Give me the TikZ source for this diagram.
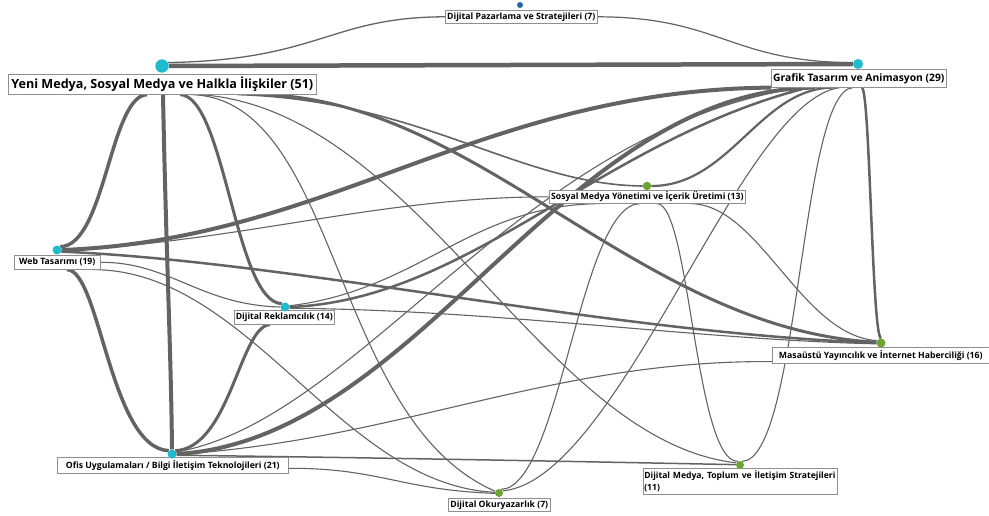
\documentclass[tikz,border=0pt]{standalone}
\usepackage{fontspec}
\setmainfont{Open Sans}
\definecolor{edgec}{HTML}{636363}
\definecolor{cyanN}{HTML}{1CBCCC}
\definecolor{greenN}{HTML}{6AA532}
\definecolor{blueN}{HTML}{2B62AD}
\definecolor{boxc}{HTML}{8F8F8F}
\pgfdeclarelayer{bg}
\pgfsetlayers{bg,main}
\newcommand{\fsz}[1]{\bfseries\fontsize{#1}{#1}\selectfont}
\begin{document}
\begin{tikzpicture}[x=1pt,y=-1pt,
  lnk/.style={draw=edgec, line width=#1},
  lnk/.default=1.1pt,
  lab/.style={draw=boxc, line width=0.6pt, fill=white, anchor=north west, inner xsep=1pt, inner ysep=0pt, text=black, font=\fsz{8.7}},
  ndot/.style={circle, inner sep=0pt, minimum size=#1},
]
\useasboundingbox (0,0) rectangle (989,516);

% labels
\node[lab, minimum width=152pt, minimum height=13pt] (dpsL) at (445,10) {Dijital Pazarlama ve Stratejileri (7)};
\node[lab, font=\fsz{12.6}, minimum width=308pt, minimum height=20pt] (ymL) at (8,74) {Yeni Medya, Sosyal Medya ve Halkla İlişkiler (51)};
\node[lab, font=\fsz{10.3}, minimum width=175pt, minimum height=18pt] (gtL) at (771,69) {Grafik Tasarım ve Animasyon (29)};
\node[lab, minimum width=196pt, minimum height=13pt] (smyL) at (549,190) {Sosyal Medya Yönetimi ve İçerik Üretimi (13)};
\node[lab, minimum width=86pt, minimum height=14pt] (wtL) at (14,255) {Web Tasarımı (19)};
\node[lab, minimum width=100pt, minimum height=14pt] (drL) at (234,310) {Dijital Reklamcılık (14)};
\node[lab, minimum width=217pt, minimum height=16pt] (myL) at (772,347) {Masaüstü Yayıncılık ve İnternet Haberciliği (16)};
\node[lab, minimum width=231pt, minimum height=16pt] (ouL) at (57,457) {Ofis Uygulamaları / Bilgi İletişim Teknolojileri (21)};
\node[lab, text width=192pt, align=left, minimum height=26pt, font=\bfseries\fontsize{8.6}{12}\selectfont] (dmtL) at (643,468) {\mbox{Dijital Medya, Toplum ve İletişim Stratejileri}\\(11)};
\node[lab, minimum width=102pt, minimum height=13pt] (dokL) at (448,498) {Dijital Okuryazarlık (7)};

% dots
\node[ndot=13.4pt, fill=cyanN] (ym) at (162,66) {};
\node[ndot=10pt, fill=cyanN] (gt) at (858,64) {};
\node[ndot=6pt, fill=blueN] (dps) at (520,5) {};
\node[ndot=8.5pt, fill=greenN] (smy) at (647,186) {};
\node[ndot=9pt, fill=cyanN] (wt) at (57,250) {};
\node[ndot=9pt, fill=cyanN] (dr) at (285,307) {};
\node[ndot=9pt, fill=greenN] (my) at (881,343) {};
\node[ndot=9pt, fill=cyanN] (ou) at (172,454) {};
\node[ndot=8pt, fill=greenN] (dmt) at (740,465) {};
\node[ndot=8pt, fill=greenN] (dok) at (499,493) {};

\begin{pgfonlayer}{bg}
% YM
\draw[lnk=4.5pt] (ym.east) -- (gt.west);
\draw[lnk=1.3pt] (ym.30) .. controls (320,60) and (330,17) .. (dpsL.west);
\draw[lnk=1.2pt] (dpsL.east) .. controls (720,17) and (730,62) .. (gt.165);
\draw[lnk=3.5pt] ([xshift=139pt]ymL.south west) .. controls (110,96) and (105,246) .. (wt.45);
\draw[lnk=4pt] ([xshift=155pt]ymL.south west) .. controls (166,250) and (171,350) .. (ou.north);
\draw[lnk=3pt] ([xshift=172pt]ymL.south west) .. controls (225,96) and (235,302) .. (dr.135);
\draw[lnk] ([xshift=182pt]ymL.south west) .. controls (340,97) and (330,420) .. (dok.155);
\draw[lnk] ([xshift=192pt]ymL.south west) .. controls (420,110) and (540,440) .. (dmt.150);
\draw[lnk=1.6pt] ([xshift=230pt]ymL.south west) .. controls (420,100) and (520,185) .. (smy.west);
\draw[lnk=3pt] ([xshift=255pt]ymL.south west) .. controls (480,100) and (640,330) .. (my.170);
% WT
\draw[lnk=4pt] (wt.east) .. controls (330,240) and (480,90) .. (gtL.south west);
\draw[lnk] (wt.-10) .. controls (250,240) and (380,197) .. (smyL.west);
\draw[lnk=2.5pt] (wt.-20) .. controls (300,262) and (600,332) .. (my.180);
\draw[lnk] (wtL.east) .. controls (170,262) and (200,305) .. (dr.west);
\draw[lnk] ([xshift=79pt]wtL.south west) .. controls (250,270) and (340,485) .. (dok.170);
\draw[lnk=3.5pt] ([xshift=53pt]wtL.south west) .. controls (100,270) and (110,448) .. (ou.135);
% DR
\draw[lnk=3pt] ([xshift=36pt]drL.south west) .. controls (240,326) and (230,448) .. (ou.45);
\draw[lnk=2.5pt] (dr.east) .. controls (470,300) and (600,140) .. ([xshift=37pt]gtL.south west);
\draw[lnk] (dr.15) .. controls (420,290) and (470,205) .. ([xshift=51pt]smyL.south west);
\draw[lnk] (dr.-15) .. controls (500,310) and (700,340) .. (my.190);
% OU
\draw[lnk=4pt] (ou.east) .. controls (420,440) and (560,90) .. ([xshift=44pt]gtL.south west);
\draw[lnk] (ou.25) .. controls (360,420) and (520,130) .. ([xshift=30pt]gtL.south west);
\draw[lnk] (ou.-5) .. controls (400,440) and (550,360) .. ([yshift=2pt]myL.south west);
\draw[lnk=1.5pt] (ou.-15) .. controls (400,458) and (600,462) .. (dmt.175);
\draw[lnk] ([yshift=-3pt]ouL.east) .. controls (380,468) and (400,490) .. (dok.185);
% GT
\draw[lnk=2.2pt] ([xshift=62pt]gtL.south west) .. controls (760,88) and (730,186) .. (smy.east);
\draw[lnk=2.5pt] ([xshift=91pt]gtL.south west) .. controls (870,92) and (872,336) .. (my.north);
\draw[lnk] ([xshift=82pt]gtL.south west) .. controls (800,90) and (800,460) .. (dmt.60);
\draw[lnk] ([xshift=69pt]gtL.south west) .. controls (740,100) and (620,480) .. (dok.30);
% SMY
\draw[lnk] ([xshift=141pt]smyL.south west) .. controls (760,204) and (800,335) .. (my.150);
\draw[lnk] ([xshift=108pt]smyL.south west) .. controls (690,204) and (695,462) .. (dmt.120);
\draw[lnk] ([xshift=91pt]smyL.south west) .. controls (580,204) and (560,488) .. (dok.60);
\end{pgfonlayer}
\end{tikzpicture}
\end{document}
